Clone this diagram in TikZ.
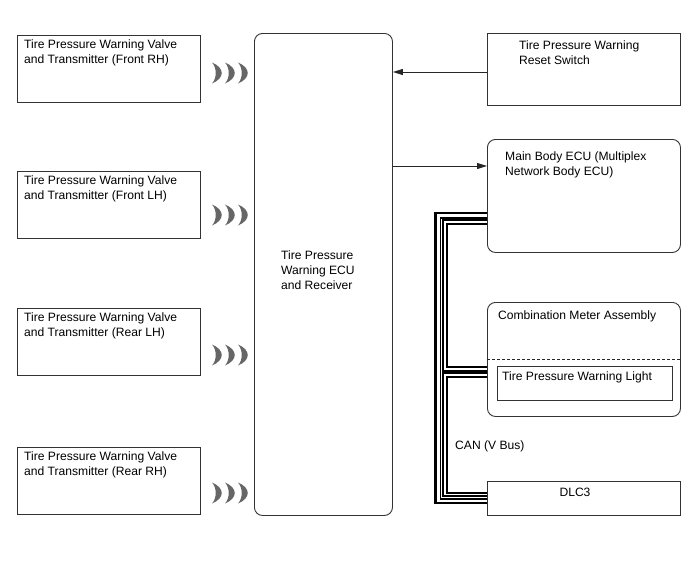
\documentclass[tikz,border=0pt]{standalone}
\usepackage{fontspec}
\setmainfont{Liberation Sans}
\usetikzlibrary{arrows.meta}
\newcommand\lbl{\fontsize{12.1}{15}\selectfont}
\begin{document}
\begin{tikzpicture}[x=1pt, y=-1pt,
  box/.style={draw=black!80, line width=0.9pt, inner sep=0pt, anchor=north west},
  roundbox/.style={box, rounded corners=8pt},
  txt/.style={font=\lbl, align=left, inner sep=0pt, anchor=north west},
  arr/.style={-{Triangle[length=10pt,width=6pt]}, line width=0.9pt, draw=black!85},
  cablethick/.style={line width=2.6pt},
  cablethin/.style={line width=1.1pt}]
\useasboundingbox (0,0) rectangle (688,560);
% transmitters
\foreach \name/\top/\side in {frh/35/Front RH, flh/171/Front LH, rlh/308/Rear LH, rrh/447/Rear RH} {
  \node[box, minimum width=183, minimum height=67] (\name) at (17,\top) {};
  \node[txt] at ([shift={(7,4.5)}]\name.north west) {Tire Pressure Warning Valve\\and Transmitter (\side)};
}
% radio waves
\foreach \y in {73,215,355,493} {
  \foreach \x in {212,225,238} {
    \fill[black!60] (\x,\y-10.5) .. controls (\x+13,\y-5) and (\x+13,\y+5) .. (\x,\y+10.5)
      .. controls (\x+5,\y+5) and (\x+5,\y-5) .. cycle;
  }
}
% ecu and receiver
\node[roundbox, minimum width=138, minimum height=482] (ecu) at (254,33) {};
\node[txt] at (281,251) {Tire Pressure\\Warning ECU\\and Receiver};
% right side
\node[box, minimum width=193, minimum height=72] (reset) at (487,33) {};
\node[txt] at (519,40.5) {Tire Pressure Warning\\Reset Switch};
\node[roundbox, minimum width=193, minimum height=113] (body) at (487,139) {};
\node[txt] at (505,151.5) {Main Body ECU (Multiplex\\Network Body ECU)};
\node[roundbox, minimum width=193, minimum height=114] (meter) at (487,302) {};
\node[txt] at (498,310.5) {Combination Meter Assembly};
\draw[black!85, line width=0.9pt, dash pattern=on 3pt off 2pt] (meter.west |- 0,359) -- (meter.east |- 0,359);
\node[box, minimum width=175, minimum height=34] (light) at (497,366) {};
\node[txt] at (502,371.5) {Tire Pressure Warning Light};
\node[box, minimum width=193, minimum height=34] (dlc) at (487,481) {};
\node[txt, anchor=north] at (575,487.5) {DLC3};
\node[txt] at (455,440.5) {CAN (V Bus)};
% signals
\draw[arr] (reset.west |- 0,72) -- (ecu.east |- 0,72);
\draw[arr] (ecu.east |- 0,166) -- (body.west |- 0,166);
% can bus
\draw[cablethick] (body.west |- 0,213) -| (435.5,503) -- (dlc.west |- 0,503);
\draw[cablethin] (body.west |- 0,218) -| (440.5,499) -- (dlc.west |- 0,499);
\draw[cablethin] (body.west |- 0,220) -| (443,371) -- (meter.west |- 0,371);
\draw[cablethick] (body.west |- 0,224) -| (447,367) -- (meter.west |- 0,367);
\draw[cablethin] (meter.west |- 0,373) -| (443,496) -- (dlc.west |- 0,496);
\draw[cablethick] (meter.west |- 0,377) -| (447,493) -- (dlc.west |- 0,493);
\end{tikzpicture}
\end{document}
